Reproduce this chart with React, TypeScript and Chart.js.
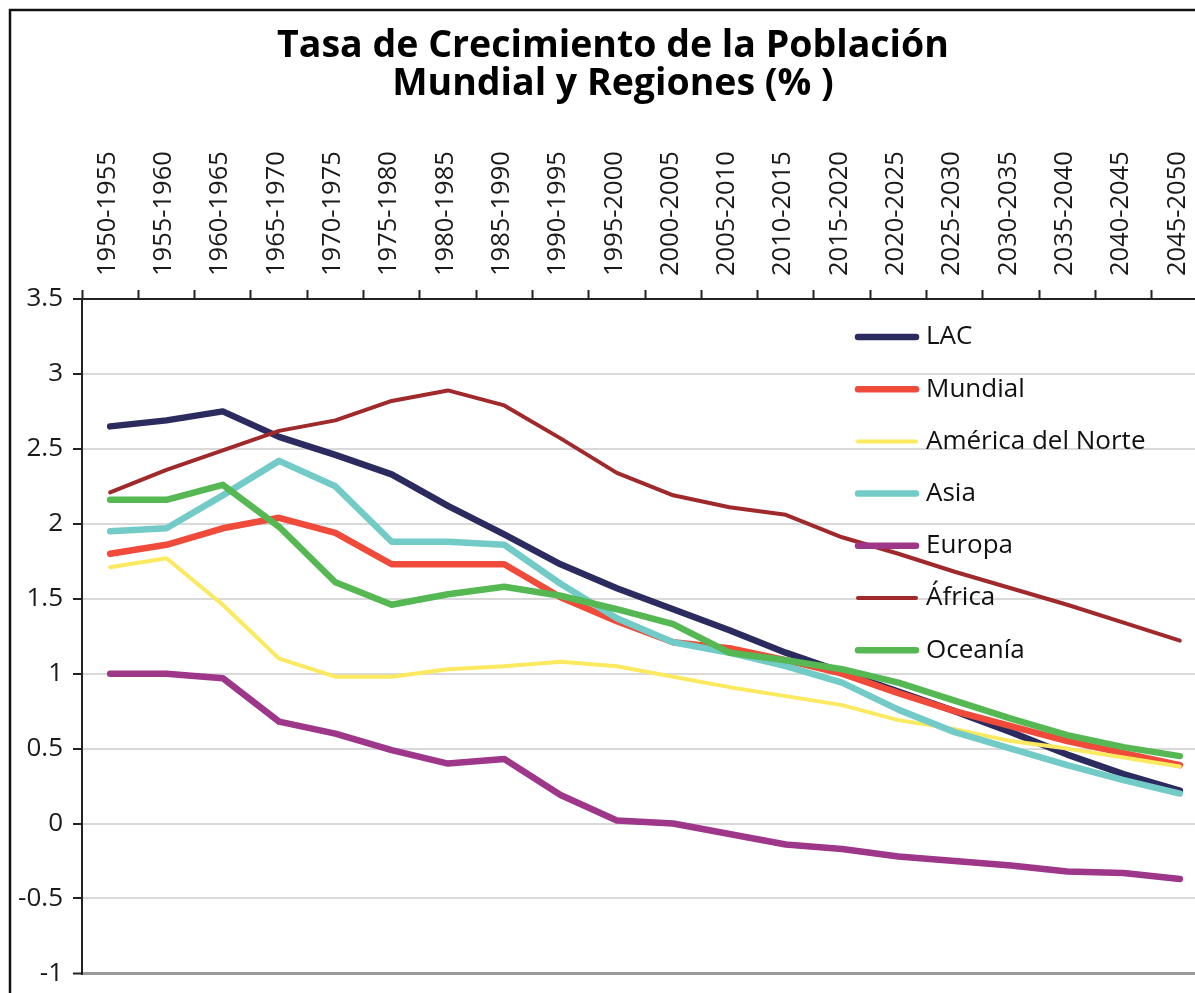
import React, { useEffect, useRef } from 'react';
import { Chart, registerables } from 'chart.js';

Chart.register(...registerables);

const categories = [
  '1950-1955', '1955-1960', '1960-1965', '1965-1970', '1970-1975',
  '1975-1980', '1980-1985', '1985-1990', '1990-1995', '1995-2000',
  '2000-2005', '2005-2010', '2010-2015', '2015-2020', '2020-2025',
  '2025-2030', '2030-2035', '2035-2040', '2040-2045', '2045-2050',
];

const seriesNames = ['LAC', 'Mundial', 'América del Norte', 'Asia', 'Europa', 'África', 'Oceanía'];

const lac = [2.65, 2.69, 2.75, 2.58, 2.46, 2.33, 2.12, 1.93, 1.73, 1.57, 1.43, 1.29, 1.14, 1.01, 0.88, 0.75, 0.61, 0.46, 0.33, 0.22];
const mundial = [1.80, 1.86, 1.97, 2.04, 1.94, 1.73, 1.73, 1.73, 1.51, 1.35, 1.21, 1.17, 1.09, 1.00, 0.87, 0.75, 0.65, 0.55, 0.47, 0.39];
const americaNorte = [1.71, 1.77, 1.46, 1.10, 0.98, 0.98, 1.03, 1.05, 1.08, 1.05, 0.98, 0.91, 0.85, 0.79, 0.69, 0.63, 0.55, 0.50, 0.44, 0.38];
const asia = [1.95, 1.97, 2.19, 2.42, 2.25, 1.88, 1.88, 1.86, 1.60, 1.37, 1.21, 1.14, 1.05, 0.94, 0.76, 0.61, 0.50, 0.39, 0.29, 0.20];
const europa = [1.00, 1.00, 0.97, 0.68, 0.60, 0.49, 0.40, 0.43, 0.19, 0.02, 0.00, -0.07, -0.14, -0.17, -0.22, -0.25, -0.28, -0.32, -0.33, -0.37];
const africa = [2.21, 2.36, 2.49, 2.62, 2.69, 2.82, 2.89, 2.79, 2.57, 2.34, 2.19, 2.11, 2.06, 1.91, 1.80, 1.68, 1.57, 1.46, 1.34, 1.22];
const oceania = [2.16, 2.16, 2.26, 1.98, 1.61, 1.46, 1.53, 1.58, 1.52, 1.43, 1.33, 1.14, 1.09, 1.03, 0.94, 0.82, 0.70, 0.59, 0.51, 0.45];

const seriesValues = [lac, mundial, americaNorte, asia, europa, africa, oceania];
const seriesColors = ['#2B2B5F', '#EF4A3A', '#FBE95F', '#72CBC6', '#9E368A', '#A0292C', '#55B853'];
const seriesWidths = [6.5, 6.5, 4, 6.5, 6.5, 4, 6.5];

const titleLines = ['Tasa de Crecimiento de la Población', 'Mundial y Regiones (% )'];

const yMin = -1;
const yMax = 3.5;
const yStep = 0.5;

const FONT = '"Open Sans", "Noto Sans", sans-serif';

const framePlugin = {
  id: 'frame',
  beforeDraw(chart: any) {
    const ctx = chart.ctx;
    ctx.save();
    ctx.fillStyle = '#ffffff';
    ctx.fillRect(0, 0, chart.width, chart.height);
    ctx.strokeStyle = '#111111';
    ctx.lineWidth = 2.5;
    ctx.beginPath();
    ctx.moveTo(10, chart.height + 10);
    ctx.lineTo(10, 10);
    ctx.lineTo(chart.width + 10, 10);
    ctx.stroke();
    ctx.restore();
  },
};

const insideLegend = {
  id: 'insideLegend',
  afterDraw(chart: any) {
    const ctx = chart.ctx;
    ctx.save();
    chart.data.datasets.forEach((ds: any, i: number) => {
      const y = 337 + i * 52.2;
      ctx.strokeStyle = ds.borderColor;
      ctx.lineWidth = ds.borderWidth;
      ctx.lineCap = 'round';
      ctx.beginPath();
      ctx.moveTo(858, y);
      ctx.lineTo(916, y);
      ctx.stroke();
      ctx.fillStyle = '#111111';
      ctx.font = `26px ${FONT}`;
      ctx.textBaseline = 'middle';
      ctx.textAlign = 'left';
      ctx.fillText(ds.label, 926, y);
    });
    ctx.restore();
  },
};

export default function App() {
  const canvasRef = useRef<HTMLCanvasElement | null>(null);

  useEffect(() => {
    if (!canvasRef.current) return;
    const datasets = seriesNames.map((name, i) => ({
      label: name,
      data: seriesValues[i],
      borderColor: seriesColors[i],
      backgroundColor: seriesColors[i],
      borderWidth: seriesWidths[i],
      pointRadius: 0,
      pointHoverRadius: 0,
      tension: 0,
      fill: false,
      borderCapStyle: 'round',
      borderJoinStyle: 'round',
      order: seriesNames.length - i,
    }));

    const chart = new Chart(canvasRef.current, {
      type: 'line',
      data: { labels: categories, datasets },
      plugins: [framePlugin, insideLegend],
      options: {
        responsive: false,
        animation: false,
        devicePixelRatio: 1,
        layout: { padding: { left: 0, right: 0, top: 0, bottom: 14 } },
        plugins: {
          legend: { display: false },
          tooltip: { enabled: false },
          title: {
            display: true,
            text: titleLines,
            color: '#000000',
            font: { family: FONT, size: 37.5, weight: 'bold', lineHeight: 1.0 },
            padding: { top: 28, bottom: 0 },
          },
        },
        scales: {
          x: {
            type: 'category',
            position: 'top',
            offset: true,
            afterFit: (s: any) => { s.height = 196; },
            grid: {
              display: true,
              drawOnChartArea: false,
              drawTicks: true,
              tickLength: 9,
              offset: true,
              tickColor: '#222222',
              tickWidth: 2,
            },
            border: { display: true, color: '#222222', width: 2 },
            ticks: {
              autoSkip: false,
              minRotation: 90,
              maxRotation: 90,
              padding: 14,
              labelOffset: 28,
              color: '#1a1a1a',
              font: { family: FONT, size: 25.5 },
            },
          },
          y: {
            type: 'linear',
            position: 'left',
            min: yMin,
            max: yMax,
            afterFit: (s: any) => { s.width = 82; },
            grid: {
              color: (c: any) => (c.tick && c.tick.value === yMin ? '#9a9a9a' : '#d9d9d9'),
              lineWidth: (c: any) => (c.tick && c.tick.value === yMin ? 3 : 2),
              drawTicks: true,
              tickLength: 9,
              tickColor: '#222222',
              tickWidth: 2,
            },
            border: { display: true, color: '#222222', width: 2 },
            ticks: {
              stepSize: yStep,
              padding: 10,
              color: '#1a1a1a',
              font: { family: FONT, size: 26 },
              callback: (v: any) => String(v),
            },
          },
          yRight: {
            type: 'linear',
            position: 'right',
            display: true,
            afterFit: (s: any) => { s.width = 18; },
            grid: { display: false, drawTicks: false },
            border: { display: false },
            ticks: { display: false },
          },
        },
      },
    } as any);

    return () => chart.destroy();
  }, []);

  return (
    <div
      style={{
        position: 'fixed',
        left: 0,
        top: 0,
        width: 1195,
        height: 993,
        overflow: 'hidden',
        background: '#ffffff',
      }}
    >
      <canvas ref={canvasRef} width={1226} height={999} style={{ width: 1226, height: 999, display: 'block' }} />
    </div>
  );
}
